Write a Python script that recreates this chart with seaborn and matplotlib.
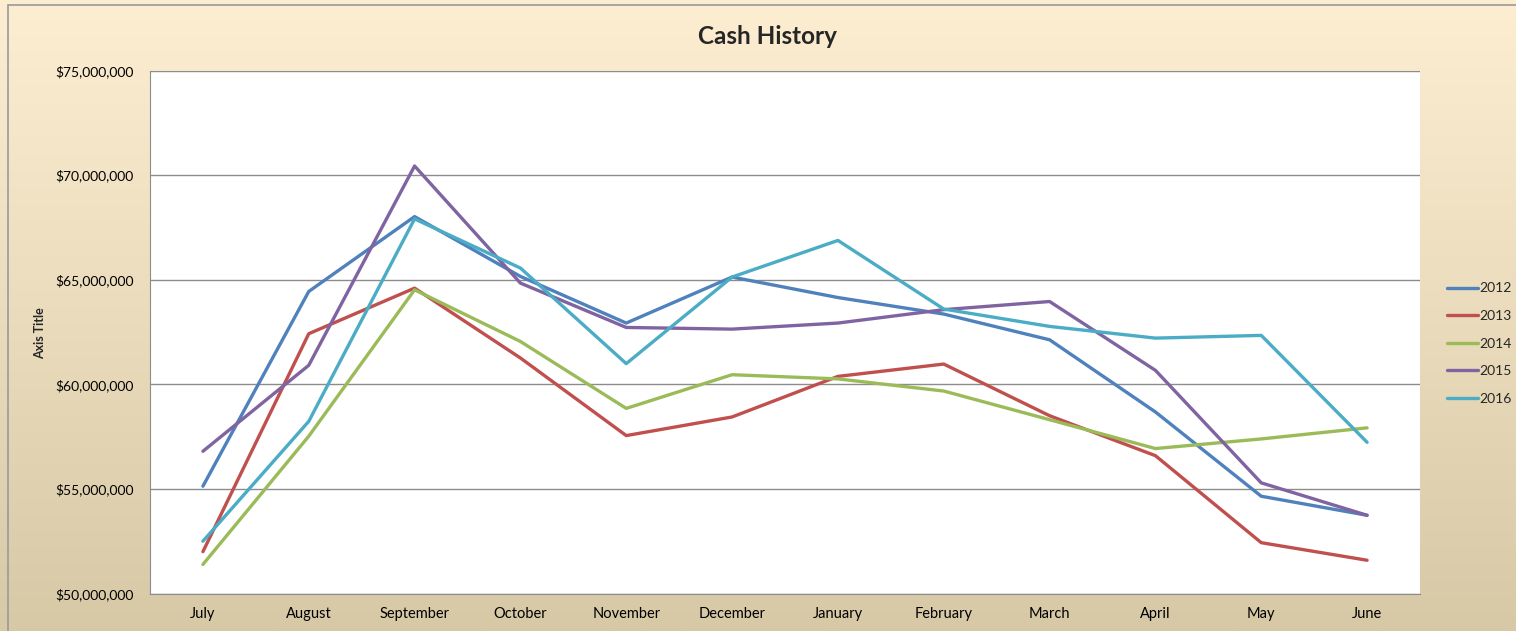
import numpy as np
import pandas as pd
import seaborn as sns
import matplotlib.pyplot as plt
from matplotlib.ticker import FuncFormatter
from matplotlib.patches import Rectangle

months = ['July', 'August', 'September', 'October', 'November', 'December',
          'January', 'February', 'March', 'April', 'May', 'June']
years = ['2012', '2013', '2014', '2015', '2016']

# cash balance, millions of dollars
cash_2012 = [55.13, 64.44, 68.02, 65.16, 62.93, 65.13, 64.15, 63.36, 62.13, 58.68, 54.65, 53.74]
cash_2013 = [52.00, 62.42, 64.60, 61.26, 57.55, 58.44, 60.38, 60.97, 58.50, 56.59, 52.43, 51.59]
cash_2014 = [51.39, 57.52, 64.52, 62.05, 58.85, 60.46, 60.26, 59.68, 58.31, 56.93, 57.39, 57.92]
cash_2015 = [56.80, 60.91, 70.44, 64.84, 62.72, 62.64, 62.93, 63.57, 63.96, 60.67, 55.29, 53.74]
cash_2016 = [52.50, 58.23, 67.91, 65.56, 60.99, 65.13, 66.88, 63.60, 62.77, 62.21, 62.34, 57.23]

colors = ['#4F81BD', '#C0504D', '#9BBB59', '#8064A2', '#4BACC6']


def main():
    sns.set_style('white')
    plt.rcParams['font.family'] = ['Lato', 'DejaVu Sans']

    series = [cash_2012, cash_2013, cash_2014, cash_2015, cash_2016]
    df = pd.DataFrame({
        'Month': months * len(years),
        'Year': np.repeat(years, len(months)),
        'Cash': np.concatenate(series) * 1e6,
    })

    fig = plt.figure(figsize=(15.16, 6.31), dpi=100)

    # gradient background like the Excel chart area
    bg = fig.add_axes([0, 0, 1, 1], zorder=-10)
    grad = np.linspace(0, 1, 256).reshape(-1, 1)
    top = np.array([253, 238, 210]) / 255
    bottom = np.array([215, 201, 166]) / 255
    img = top + grad[..., None] * (bottom - top)
    bg.imshow(img, aspect='auto', extent=[0, 1, 0, 1])
    bg.add_patch(Rectangle((8 / 1516, -0.1), 1.2, 1 - 5 / 631 + 0.1,
                           fill=False, edgecolor='#9a9a9a', linewidth=1.2,
                           transform=bg.transAxes))
    bg.set_xlim(0, 1)
    bg.set_ylim(0, 1)
    bg.axis('off')

    ax = fig.add_axes([150 / 1516, 1 - 593.5 / 631, 1270 / 1516, (593.5 - 70.6) / 631])
    ax.set_facecolor('white')

    sns.lineplot(data=df, x='Month', y='Cash', hue='Year', hue_order=years,
                 palette=colors, sort=False, linewidth=2.4, ax=ax)

    ax.set_ylim(50e6, 75e6)
    ax.set_yticks(np.arange(50e6, 75.1e6, 5e6))
    ax.set_xlim(-0.5, 11.5)
    ax.yaxis.set_major_formatter(FuncFormatter(lambda v, p: f'${v:,.0f}'))
    ax.grid(axis='y', color='#8c8c8c', linewidth=1.0)
    ax.set_axisbelow(True)
    for side in ['top', 'right']:
        ax.spines[side].set_visible(False)
    ax.spines['left'].set_color('#8c8c8c')
    ax.spines['bottom'].set_color('#8c8c8c')
    ax.tick_params(axis='x', length=0, labelsize=10.5, colors='black', pad=10)
    ax.tick_params(axis='y', length=0, labelsize=10, colors='black', pad=12)
    ax.set_xlabel('')
    ax.set_ylabel('')
    fig.text(40 / 1516, 1 - 333 / 631, 'Axis Title', rotation=90,
             ha='center', va='center', fontsize=9, fontweight='bold')

    ax.legend(loc='center left', bbox_to_anchor=(1.0115, 0.478), frameon=False,
              fontsize=10, handlelength=2.2, labelspacing=1.12, handletextpad=0.15)

    fig.text(0.506, 1 - 36 / 631, 'Cash History', ha='center', va='center',
             fontsize=17.5, fontweight='bold')

    fig.savefig('out.png', dpi=100)


if __name__ == '__main__':
    main()
